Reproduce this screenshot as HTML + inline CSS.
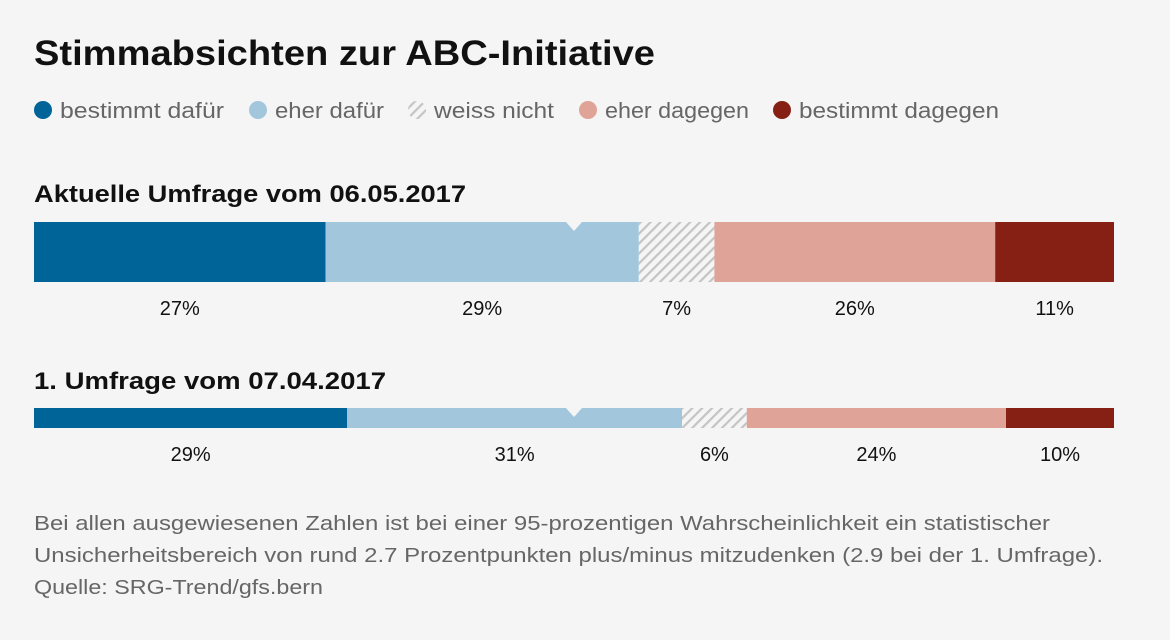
<!DOCTYPE html>
<html><head><meta charset="utf-8"><style>
body{margin:0;background:#f5f5f5;font-family:"Liberation Sans",Arial,sans-serif;}
svg{display:block}
</style></head><body>
<svg id="c" width="1170" height="640">
<defs><pattern id="hatch" patternUnits="userSpaceOnUse" width="7" height="7" patternTransform="rotate(45)">
<rect width="7" height="7" fill="#f5f5f5"/><rect width="2.2" height="7" fill="#c4c4c4"/></pattern></defs>
<text x="34" y="65" font-size="35" font-weight="bold" fill="#111" textLength="621" lengthAdjust="spacingAndGlyphs">Stimmabsichten zur ABC-Initiative</text>
<g id="legend"></g>
<text x="34" y="202" font-size="24" font-weight="bold" fill="#111" textLength="432" lengthAdjust="spacingAndGlyphs">Aktuelle Umfrage vom 06.05.2017</text>
<text x="34" y="389" font-size="24" font-weight="bold" fill="#111" textLength="352" lengthAdjust="spacingAndGlyphs">1. Umfrage vom 07.04.2017</text>
<g id="bars"></g>
<g font-size="20" fill="#666">
<text x="34" y="530" textLength="1016" lengthAdjust="spacingAndGlyphs">Bei allen ausgewiesenen Zahlen ist bei einer 95-prozentigen Wahrscheinlichkeit ein statistischer</text>
<text x="34" y="562" textLength="1069" lengthAdjust="spacingAndGlyphs">Unsicherheitsbereich von rund 2.7 Prozentpunkten plus/minus mitzudenken (2.9 bei der 1. Umfrage).</text>
<text x="34" y="594" textLength="289" lengthAdjust="spacingAndGlyphs">Quelle: SRG-Trend/gfs.bern</text>
</g>
</svg>
<script>
const categories=["bestimmt dafür","eher dafür","weiss nicht","eher dagegen","bestimmt dagegen"];
const current=[27,29,7,26,11];
const first=[29,31,6,24,10];
const colors=["#006498","#a2c7dd","url(#hatch)","#e0a398","#861f14"];
const NS="http://www.w3.org/2000/svg";
const svg=document.getElementById('c');
function mk(t,a,p){const e=document.createElementNS(NS,t);for(const k in a)e.setAttribute(k,a[k]);p.appendChild(e);return e;}
const lg=document.getElementById('legend');
const lx=[43,258,417,588,782];
const lw=[164,109,120,144,200];
categories.forEach((c,i)=>{
 const ci=mk('circle',{cx:lx[i],cy:110,r:9,fill:colors[i]},lg);
 
 
 const t=mk('text',{x:lx[i]+17,y:118,'font-size':22,fill:'#666',textLength:lw[i],lengthAdjust:'spacingAndGlyphs'},lg);t.textContent=c;
 
 
});
const x0=34,W=1080;
const xs=v=>x0+v/100*W;
function drawBar(vals,y,h,ly,name){
 const g=document.getElementById('bars');
 let acc=0;
 vals.forEach((v,i)=>{
  const r=mk('rect',{x:xs(acc),y:y,width:xs(acc+v)-xs(acc),height:h,fill:colors[i]},g);
  
  
  const t=mk('text',{x:(xs(acc)+xs(acc+v))/2,y:ly,'font-size':20,fill:'#111','text-anchor':'middle'},g);
  t.textContent=v+'%';
  
  
  acc+=v;
 });
 const m=xs(50);
 const tri=mk('polygon',{points:`${m-8},${y} ${m+8},${y} ${m},${y+9}`,fill:'#f5f5f5'},g);
 
 
}
drawBar(current,222,60,315,'current');
drawBar(first,408,20,461,'first');
</script>
</body></html>
